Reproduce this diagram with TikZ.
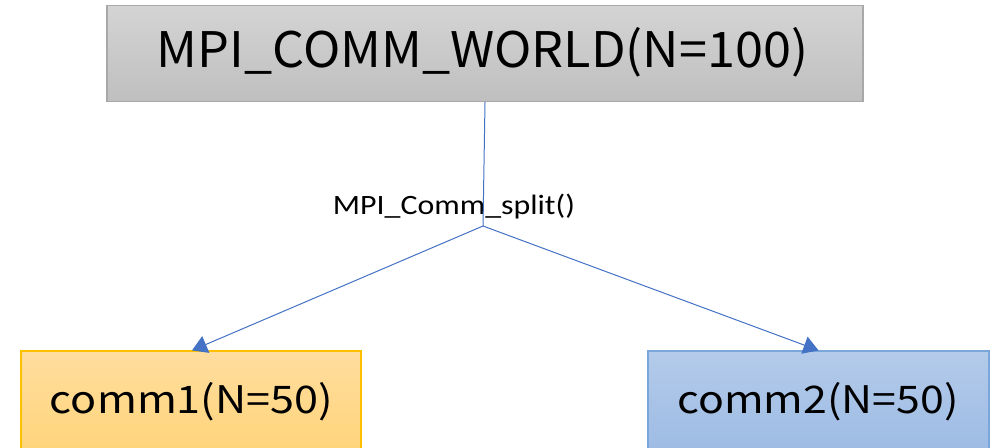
\documentclass[tikz,border=0pt]{standalone}
\usepackage{fontspec}
\newfontfamily\jpfont{Noto Sans CJK JP}
\newfontfamily\calfont{Carlito}
\usetikzlibrary{arrows.meta}
\definecolor{grayTop}{HTML}{D4D4D4}
\definecolor{grayBot}{HTML}{BFBFBF}
\definecolor{grayLine}{HTML}{A8A8A8}
\definecolor{orTop}{HTML}{FFDD9E}
\definecolor{orBot}{HTML}{FFD47A}
\definecolor{orLine}{HTML}{FFC000}
\definecolor{blTop}{HTML}{B4CBEA}
\definecolor{blBot}{HTML}{9DBBE4}
\definecolor{blLine}{HTML}{7AA6DA}
\definecolor{conn}{HTML}{4472C4}
\tikzset{
  boxnode/.style={rectangle, line width=1.2pt, inner sep=0pt},
  connline/.style={draw=conn, line width=1pt},
  arrowline/.style={connline, -{Triangle[width=18pt,length=15pt]}}
}
\begin{document}
\begin{tikzpicture}[x=1pt,y=-1pt]
\useasboundingbox (0,0) rectangle (1000,447);
\fill[white] (0,0) rectangle (1000,447);
\node[boxnode, draw=grayLine, top color=grayTop, bottom color=grayBot,
      minimum width=756, minimum height=96] (world) at (485,53.5) {};
\node[inner sep=0pt, anchor=base] (worldtxt) at (482.5,67)
  {\resizebox{651pt}{\height}{\jpfont\fontsize{49}{52}\selectfont MPI\_COMM\_WORLD(N=100)}};
\node[boxnode, draw=orLine, top color=orTop, bottom color=orBot,
      minimum width=340, minimum height=102] (comm1) at (191,402) {};
\node[inner sep=0pt, anchor=base] (comm1txt) at (191.5,413.3)
  {\resizebox{283pt}{\height}{\jpfont\fontsize{38}{42}\selectfont comm1(N=50)}};
\node[boxnode, draw=blLine, top color=blTop, bottom color=blBot,
      minimum width=341, minimum height=102] (comm2) at (818.5,402) {};
\node[inner sep=0pt, anchor=base] (comm2txt) at (818,413.3)
  {\resizebox{281pt}{\height}{\jpfont\fontsize{38}{42}\selectfont comm2(N=50)}};
\coordinate (split) at (483,226);
\node[inner sep=0pt, anchor=base] (lbl) at (454,214.5)
  {\resizebox{242pt}{\height}{\calfont\fontsize{28}{32}\selectfont MPI\_Comm\_split()}};
\draw[connline] (world.south) -- (split);
\draw[arrowline] (split) -- ([xshift=1]comm1.north);
\draw[arrowline] (split) -- (comm2.north);
\end{tikzpicture}
\end{document}
